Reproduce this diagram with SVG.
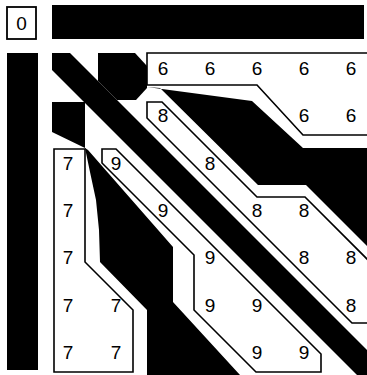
<svg xmlns="http://www.w3.org/2000/svg" width="367" height="375" viewBox="0 0 367 375">
<style>
.blk{fill:#000}
.zone{fill:#fff;stroke:#000;stroke-width:1.6;stroke-linejoin:miter}
.n{font-family:"Liberation Sans",Arial,sans-serif;font-size:19px;fill:#000;text-anchor:middle}
</style>
<rect width="367" height="375" fill="#fff"/>
<g id="header">
  <rect x="7" y="7" width="29" height="32" fill="#fff" stroke="#000" stroke-width="1.8"/>
  <text class="n" x="21.5" y="30">0</text>
  <rect class="blk" x="52" y="5" width="312" height="34"/>
  <rect class="blk" x="7" y="53" width="31" height="317"/>
</g>
<g id="black-regions">
  <polygon class="blk" points="52,53 70,53 367,350 367,375 357,375 52,70"/>
  <polygon class="blk" points="98,53 135,53 147,66 147,88 136,100 117,100 98,81"/>
  <polygon class="blk" points="147,87 252,101 303,148 367,148 367,246 306,185 258,185 160,88"/>
  <polygon class="blk" points="52,102 85,102 85,148 52,132"/>
  <polygon class="blk" points="85,148 88,150 173,247 173,302 240,375 147,375 147,310 100,262 99,230 96,200 90,172"/>
</g>
<g id="zone6">
  <path class="zone" d="M368,53 H147 V85 H257 L303,135 H368"/>
  <text class="n" x="163" y="75">6</text><text class="n" x="210" y="75">6</text><text class="n" x="257" y="75">6</text><text class="n" x="304" y="75">6</text><text class="n" x="351" y="75">6</text>
  <text class="n" x="304" y="122">6</text><text class="n" x="351" y="122">6</text>
</g>
<g id="zone8">
  <path class="zone" d="M368,260 L305,197 H257 L162,102 H147 V118 L352,323 H368"/>
  <text class="n" x="163" y="122">8</text><text class="n" x="210" y="170">8</text><text class="n" x="257" y="217">8</text><text class="n" x="304" y="217">8</text>
  <text class="n" x="304" y="264">8</text><text class="n" x="351" y="264">8</text><text class="n" x="351" y="312">8</text>
</g>
<g id="zone9">
  <path class="zone" d="M102,149 H116 L321,354 V372 H256 L194,310 V255 L102,163 Z"/>
  <text class="n" x="116" y="170">9</text><text class="n" x="163" y="217">9</text><text class="n" x="210" y="264">9</text><text class="n" x="210" y="312">9</text>
  <text class="n" x="257" y="312">9</text><text class="n" x="257" y="359">9</text><text class="n" x="304" y="359">9</text>
</g>
<g id="zone7">
  <path class="zone" d="M54,149 H85 V262 L133,310 V372 H54 Z"/>
  <text class="n" x="68" y="170">7</text><text class="n" x="68" y="217">7</text><text class="n" x="68" y="264">7</text><text class="n" x="68" y="312">7</text>
  <text class="n" x="116" y="312">7</text><text class="n" x="68" y="359">7</text><text class="n" x="116" y="359">7</text>
</g>
</svg>
